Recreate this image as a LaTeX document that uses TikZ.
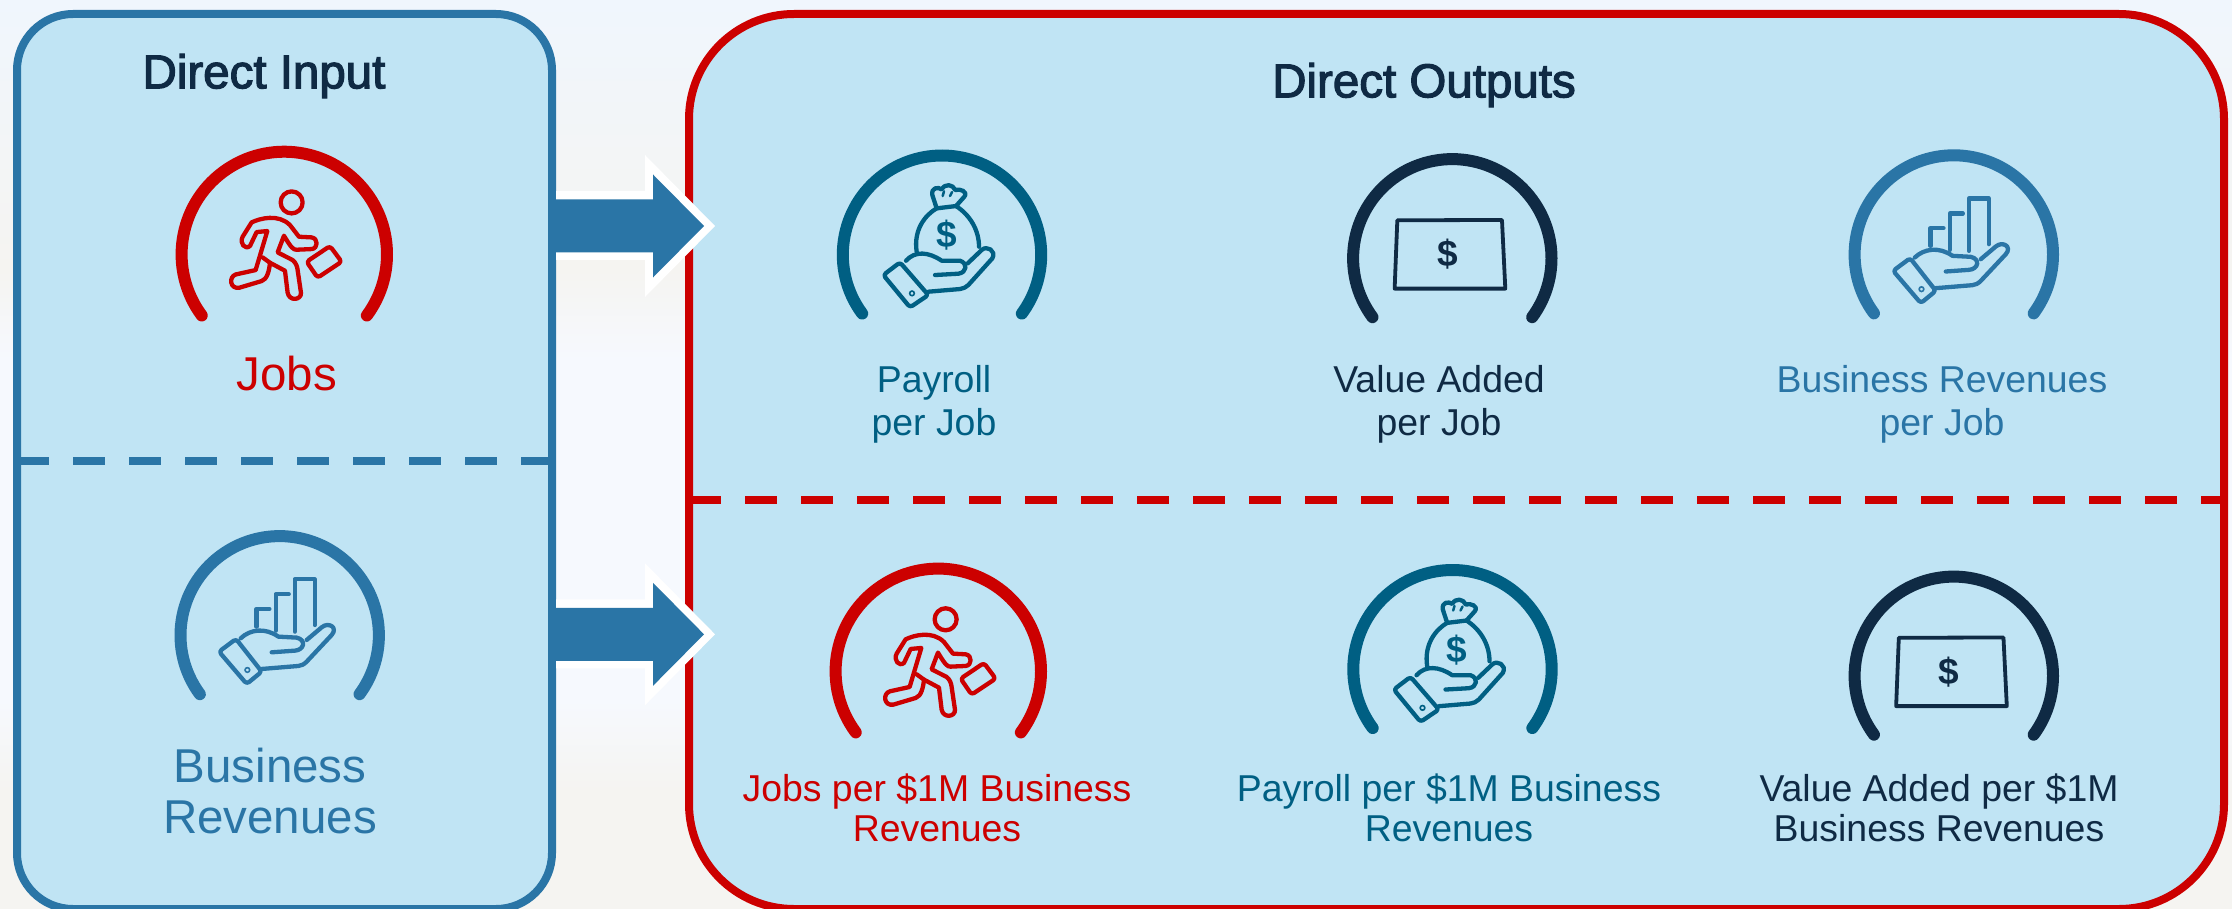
\documentclass[tikz,border=0pt]{standalone}
\usepackage{fontspec}
\setmainfont{Liberation Sans}
\newfontfamily\titlefont[FakeBold=2.5]{Liberation Sans}
\definecolor{paleblue}{HTML}{C0E4F4}
\definecolor{jobred}{HTML}{CC0000}
\definecolor{revblue}{HTML}{2A75A6}
\definecolor{payteal}{HTML}{005F83}
\definecolor{valnavy}{HTML}{0F2A44}
\definecolor{skytint}{HTML}{F0F6FD}
\definecolor{hazetint}{HTML}{F6F9FE}
\definecolor{groundtint}{HTML}{F5F4F1}
\tikzset{
	gaugearc/.style={line width=12pt,line cap=round},
	iconline/.style={line width=4.3pt,line cap=round,line join=round},
	bigtext/.style={font=\fontsize{47.5}{51}\selectfont,align=center},
	smalltext/.style={font=\fontsize{37.4}{40}\selectfont,align=center},
	titletext/.style={font=\titlefont\fontsize{47.5}{51}\selectfont,text=valnavy},
	boxedge/.style={line width=8pt,fill=paleblue},
	divider/.style={line width=8pt,dash pattern=on 32pt off 24pt},
	runner/.pic={
		\draw[gaugearc] (143.5:102.7) arc[start angle=143.5,end angle=396.5,radius=102.7];
		\begin{scope}[scale=1/3,shift={(-403,-403)}]
			\draw[iconline] (425,247) circle(33);
			\draw[iconline] (305,307) .. controls (330,295) and (385,280) .. (420,315) -- (447,350) -- (485,352) .. controls (505,355) and (505,385) .. (485,387) -- (440,389) .. controls (430,389) and (425,385) .. (402,347) -- (383,397) -- (428,420) .. controls (438,428) and (442,440) .. (443,450) -- (453,518) .. controls (455,540) and (418,545) .. (413,518) -- (405,452) -- (360,428) .. controls (358,450) and (352,478) .. (335,483) -- (268,503) .. controls (240,508) and (235,470) .. (258,463) -- (317,450) -- (352,333) -- (320,336) -- (300,378) .. controls (285,390) and (268,370) .. (278,350) -- cycle;
			\draw[iconline] (360,428) -- (338,412);
			\draw[iconline,rounded corners=3pt] (540,378) -- (575,425) -- (503,473) -- (470,425) -- cycle;
		\end{scope}
	},
	barshand/.pic={
		\draw[gaugearc] (143.6:99.2) arc[start angle=143.6,end angle=396.4,radius=99.2];
		\begin{scope}[scale=1/3,shift={(-389,-376)}]
			\draw[iconline,rounded corners=3pt] (258,387) -- (335,485) -- (290,522) -- (207,425) -- cycle;
			\draw[line width=1.6pt] (292,480) circle(7);
			\draw[iconline] (272,385) .. controls (300,358) and (345,352) .. (385,380) -- (440,383) .. controls (470,390) and (462,420) .. (435,422) -- (365,427);
			\draw[iconline] (335,477) -- (445,468) .. controls (455,467) and (462,463) .. (470,455) -- (545,375) .. controls (565,352) and (535,335) .. (515,352) -- (470,390);
			\draw[iconline] (319,350) -- (319,297) -- (358,297);
			\draw[iconline] (377,362) -- (377,253) -- (416,253);
			\draw[iconline] (434,365) -- (434,208) -- (494,208) -- (494,345);
		\end{scope}
	},
	baghand/.pic={
		\draw[gaugearc] (143.6:99.2) arc[start angle=143.6,end angle=396.4,radius=99.2];
		\begin{scope}[scale=1/3,shift={(-426,-374)}]
			\draw[iconline,rounded corners=3pt] (300,397) -- (385,495) -- (330,532) -- (250,435) -- cycle;
			\draw[line width=1.6pt] (336,490) circle(7);
			\draw[iconline] (318,392) .. controls (345,362) and (385,365) .. (425,392) -- (480,392) .. controls (505,400) and (500,428) .. (475,431) -- (405,435);
			\draw[iconline] (385,485) -- (480,477) .. controls (490,476) and (497,472) .. (505,465) -- (577,385) .. controls (590,362) and (560,345) .. (545,360) -- (503,400);
			\draw[iconline] (350,365) .. controls (340,300) and (375,255) .. (410,235) -- (397,195) .. controls (393,172) and (415,170) .. (425,178) .. controls (435,160) and (458,162) .. (466,180) .. controls (480,175) and (505,185) .. (493,200) -- (468,228) .. controls (510,255) and (537,300) .. (537,350);
			\draw[iconline] (410,235) -- (468,228);
			\draw[line width=2.5pt,line cap=round] (432,184) -- (428,198);
			\draw[line width=2.5pt,line cap=round] (456,186) -- (450,198);
			\node[font=\bfseries\fontsize{37}{37}\selectfont] (dollar) at (440,316) {\$};
		\end{scope}
	},
	billnote/.pic={
		\draw[gaugearc] (143.6:99.2) arc[start angle=143.6,end angle=396.4,radius=99.2];
		\begin{scope}[scale=1/3,shift={(-397,-385)}]
			\draw[line width=3.8pt,line join=round] (232,271) -- (546,270) -- (556,476) -- (224,476) -- cycle;
			\node[font=\bfseries\fontsize{37}{37}\selectfont] (dollar) at (382,373) {\$};
		\end{scope}
	},
	bigarrow/.pic={
		\fill[white] (556,-35) -- (645,-35) -- (645,-71) -- (715,0) -- (645,71) -- (645,34) -- (556,34) -- cycle;
		\fill[revblue] (552,-26.5) -- (653,-26.5) -- (653,-51.5) -- (704,0) -- (653,51.5) -- (653,26.5) -- (552,26.5) -- cycle;
	}
}
\begin{document}
\begin{tikzpicture}[x=1pt,y=-1pt]
	\useasboundingbox (0,0) rectangle (2232,909);
	\shade[top color=skytint,bottom color=groundtint] (0,0) rectangle (2232,270);
	\shade[top color=groundtint,bottom color=hazetint] (0,270) rectangle (2232,360);
	\fill[hazetint] (0,360) rectangle (2232,700);
	\shade[top color=hazetint,bottom color=groundtint] (0,700) rectangle (2232,790);
	\fill[groundtint] (0,790) rectangle (2232,909);

	\draw[boxedge,draw=revblue,rounded corners=56pt] (17,14) rectangle (552,909);
	\draw[boxedge,draw=jobred,rounded corners=105pt] (689,14) rectangle (2224,909);
	\draw[divider,draw=revblue] (17,461) -- (552,461);
	\draw[divider,draw=jobred] (689,500) -- (2224,500);

	\pic (arrowtop) at (0,226) {bigarrow};
	\pic (arrowbottom) at (0,634.3) {bigarrow};

	\node[titletext] (inputtitle) at (264,76) {Direct Input};
	\node[titletext] (outputtitle) at (1424,85) {Direct Outputs};

	\pic[color=jobred] (jobsicon) at (284.3,254.4) {runner};
	\pic[color=revblue] (revicon) at (279.7,635.3) {barshand};
	\node[bigtext,text=jobred] (jobslabel) at (287,374) {Jobs};
	\node[bigtext,text=revblue] (revlabel) at (270,791) {Business\\Revenues};

	\pic[color=payteal] (payicon) at (942,254.7) {baghand};
	\pic[color=valnavy] (valicon) at (1452.3,258.3) {billnote};
	\pic[color=revblue] (revjobicon) at (1953.8,254.5) {barshand};
	\node[smalltext,text=payteal] (paylabel) at (934,404.5) {Payroll\\[2.7pt]per Job};
	\node[smalltext,text=valnavy] (vallabel) at (1439,404.5) {Value Added\\[2.7pt]per Job};
	\node[smalltext,text=revblue] (revjoblabel) at (1942,404.5) {Business Revenues\\[2.7pt]per Job};

	\pic[color=jobred] (jobrevicon) at (938.3,671.3) {runner};
	\pic[color=payteal] (payrevicon) at (1452.5,669.2) {baghand};
	\pic[color=valnavy] (valrevicon) at (1953.8,675.8) {billnote};
	\node[smalltext,text=jobred] (jobrevlabel) at (937,808) {Jobs per \$1M Business\\Revenues};
	\node[smalltext,text=payteal] (payrevlabel) at (1449,808) {Payroll per \$1M Business\\Revenues};
	\node[smalltext,text=valnavy] (valrevlabel) at (1939,808) {Value Added per \$1M\\Business Revenues};
\end{tikzpicture}
\end{document}
